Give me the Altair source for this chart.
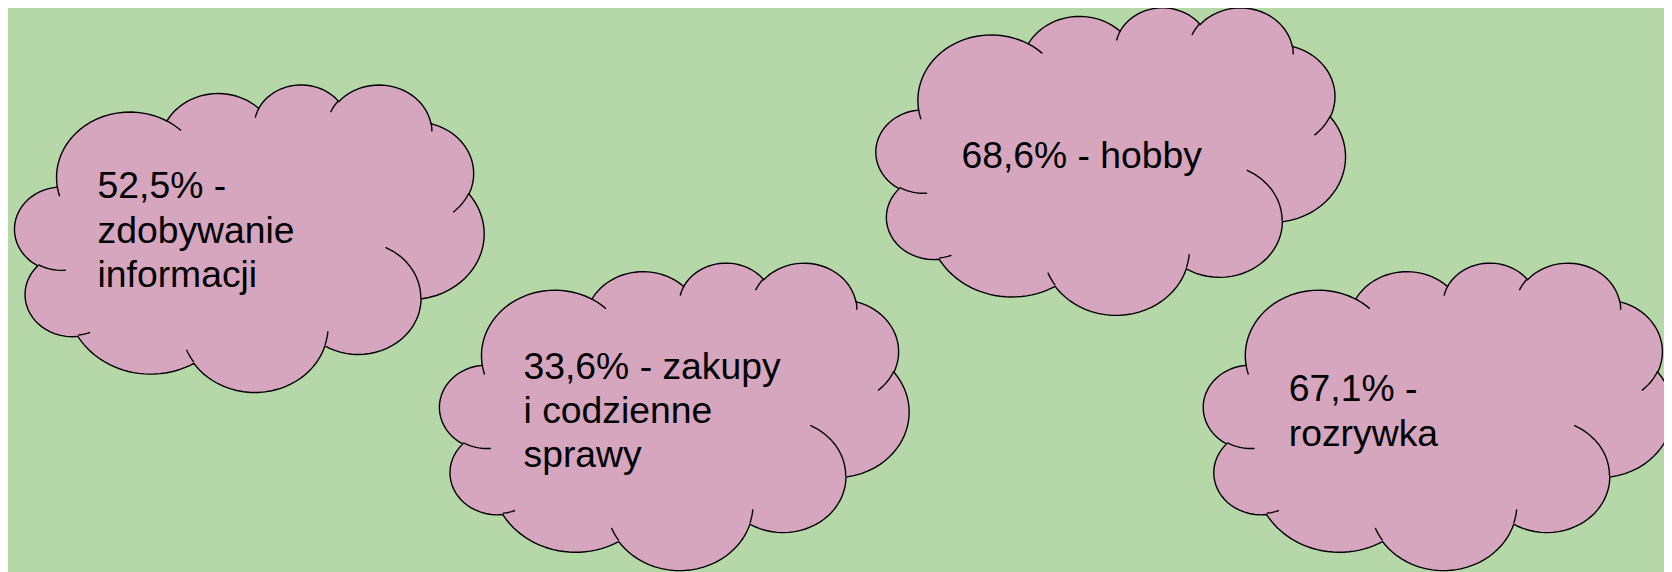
import math
import altair as alt
import pandas as pd

# ---------------- data ----------------
categories = ["zdobywanie informacji", "hobby", "zakupy i codzienne sprawy", "rozrywka"]
percent_labels = ["52,5%", "68,6%", "33,6%", "67,1%"]
label_lines = [
    ["52,5% -", "zdobywanie", "informacji"],
    ["68,6% - hobby"],
    ["33,6% - zakupy", "i codzienne", "sprawy"],
    ["67,1% -", "rozrywka"],
]

# layout (reference pixel coordinates)
cloud_cx = [250.5, 1116.0, 677.5, 1445.0]
cloud_cy = [238.5, 161.0, 417.5, 417.5]
text_x = [98, 966, 526, 1295]
text_y = [198, 167, 379, 402]

CLOUD_W = 472.0
CLOUD_H = 309.0
BG = "#b6d7a8"
PINK = "#d5a6bd"

# ---------------- cloud shape (PowerPoint "cloud" preset geometry) ----------------
main_start = (3900, 14370)
main_arcs = [
    (6753, 9190, -11429249, 7426832),
    (5333, 7267, -8646143, 5396714),
    (4365, 5945, -8748475, 5983381),
    (4857, 6595, -7859164, 7034504),
    (5333, 7273, -4722533, 6541615),
    (6775, 9220, -2776035, 7816140),
    (5785, 7867, 37501, 6842000),
    (6752, 9215, 1347096, 6910353),
    (7720, 10543, 3974558, 4542661),
    (4360, 5918, -16496525, 8804134),
    (4345, 5945, -14809710, 9151131),
]
inner_arcs = [
    ((4693, 26177), (4345, 5945, 5204520, 1585770)),
    ((6928, 34899), (4360, 5918, 4416628, 686848)),
    ((16478, 39090), (6752, 9215, 8257449, 844866)),
    ((28827, 34751), (6752, 9215, 387196, 959901)),
    ((34129, 22954), (5785, 7867, -4217541, 4255042)),
    ((41798, 15354), (5333, 7273, 1819082, 1665090)),
    ((38324, 5426), (4857, 6595, -824660, 891534)),
    ((29078, 3952), (4857, 6595, -8950887, 1091722)),
    ((22141, 4720), (4365, 5945, -9809656, 1061181)),
    ((14000, 5192), (6753, 9190, -4002417, 739161)),
    ((4127, 15789), (6753, 9190, 9459261, 711490)),
]


def ell_r(wr, hr, a):
    return wr * hr / math.sqrt((hr * math.cos(a)) ** 2 + (wr * math.sin(a)) ** 2)


def arc_pts(p, arc, n):
    wr, hr, st, sw = arc
    a1 = math.radians(st / 60000.0)
    s = math.radians(sw / 60000.0)
    r1 = ell_r(wr, hr, a1)
    cx = p[0] - r1 * math.cos(a1)
    cy = p[1] - r1 * math.sin(a1)
    out = []
    for k in range(1, n + 1):
        a = a1 + s * k / n
        r = ell_r(wr, hr, a)
        out.append((cx + r * math.cos(a), cy + r * math.sin(a)))
    return out


outline = [main_start]
cur = main_start
for arc in main_arcs:
    pts = arc_pts(cur, arc, 28)
    outline.extend(pts)
    cur = pts[-1]

inner_paths = []
for start, arc in inner_arcs:
    inner_paths.append([start] + arc_pts(start, arc, 10))

xmin = min(p[0] for p in outline)
xmax = max(p[0] for p in outline)
ymin = min(p[1] for p in outline)
ymax = max(p[1] for p in outline)
pcx = (xmin + xmax) / 2
pcy = (ymin + ymax) / 2


def norm(p):
    X = (p[0] - pcx) / (xmax - xmin) * 2
    Y = (p[1] - pcy) / (ymax - ymin) * 2 * CLOUD_H / CLOUD_W
    return f"{X:.4f} {Y:.4f}"


outline_path = "M " + " L ".join(norm(p) for p in outline) + " Z"
inner_path = " ".join("M " + " L ".join(norm(p) for p in seg) for seg in inner_paths)

# ---------------- tables ----------------
clouds = pd.DataFrame({"category": categories, "cx": cloud_cx, "cy": cloud_cy})
texts = pd.DataFrame({
    "category": categories,
    "label": ["\n".join(l) for l in label_lines],
    "tx": text_x,
    "ty": text_y,
})

xs = alt.Scale(domain=[8, 1672], nice=False, zero=False)
ys = alt.Scale(domain=[572, 8], nice=False, zero=False)

base_c = alt.Chart(clouds).encode(
    x=alt.X("cx:Q", scale=xs, axis=None),
    y=alt.Y("cy:Q", scale=ys, axis=None),
)

fill_layer = base_c.mark_point(
    shape=outline_path, filled=True, fill=PINK, stroke="black",
    strokeWidth=1.4, opacity=1, size=CLOUD_W * CLOUD_W,
)
inner_layer = base_c.mark_point(
    shape=inner_path, filled=False, stroke="black",
    strokeWidth=1.4, opacity=1, size=CLOUD_W * CLOUD_W,
)

text_layer = alt.Chart(texts).mark_text(
    align="left", baseline="alphabetic", font="Liberation Sans",
    fontSize=37.5, lineHeight=44.5, lineBreak="\n", color="black",
).encode(
    x=alt.X("tx:Q", scale=xs, axis=None),
    y=alt.Y("ty:Q", scale=ys, axis=None),
    text="label:N",
)

chart = alt.layer(fill_layer, inner_layer, text_layer).properties(
    width=1664, height=564,
    autosize=alt.AutoSizeParams(type="none"),
    padding=0,
    background=BG,
).configure_view(stroke=None)

chart.save("out.html", embed_options={"renderer": "svg", "actions": False})
